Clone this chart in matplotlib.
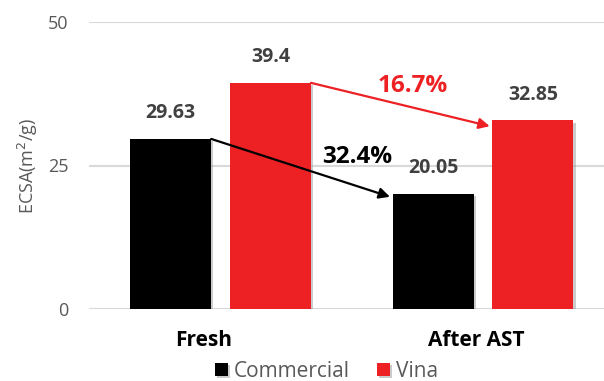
import matplotlib.pyplot as plt
import matplotlib.patheffects as pe
import numpy as np

# ECSA of commercial vs Vina catalyst, fresh and after accelerated stress test
categories = ['Fresh', 'After AST']
commercial = [29.63, 20.05]
vina = [39.4, 32.85]
series_names = ['Commercial', 'Vina']
commercial_loss = '32.4%'
vina_loss = '16.7%'

plt.rcParams['font.family'] = ['Open Sans', 'DejaVu Sans']

fig = plt.figure(figsize=(6.04, 3.81), dpi=100)
ax = fig.add_axes([89 / 604, 1 - 309 / 381, 1 - 89 / 604, (309 - 22) / 381])

x = np.arange(len(categories))
width = 0.309
offset = 0.19
shadow = [pe.SimplePatchShadow(offset=(1.5, -1.5), shadow_rgbFace='#999999', alpha=0.5), pe.Normal()]

b1 = ax.bar(x - offset, commercial, width, color='#000000', label=series_names[0], zorder=3,
            path_effects=shadow)
b2 = ax.bar(x + offset, vina, width, color='#ed2024', label=series_names[1], zorder=3,
            path_effects=shadow)

for bars, vals in ((b1, commercial), (b2, vina)):
    for rect, v in zip(bars, vals):
        ax.text(rect.get_x() + rect.get_width() / 2, v + 4.5, f'{v:g}', ha='center', va='center',
                fontsize=14, fontweight='bold', color='#404040')

# arrows showing the drop after AST
ax.annotate('', xy=(1 - offset - width / 2 - 0.01, commercial[1] - 0.5),
            xytext=(-offset + width / 2, commercial[0]),
            arrowprops=dict(arrowstyle='-|>', color='black', lw=1.6, mutation_scale=16,
                            shrinkA=0, shrinkB=0), zorder=4)
ax.annotate('', xy=(1 + offset - width / 2 - 0.01, vina[1] - 1),
            xytext=(offset + width / 2, vina[0]),
            arrowprops=dict(arrowstyle='-|>', color='#ed2024', lw=1.6, mutation_scale=16,
                            shrinkA=0, shrinkB=0), zorder=4)
ax.text(0.52, 26.4, commercial_loss, ha='center', va='center', fontsize=17.5, fontweight='bold',
        color='black', zorder=5)
ax.text(0.733, 38.8, vina_loss, ha='center', va='center', fontsize=17.5, fontweight='bold',
        color='#ed2024', zorder=5)

ax.set_xlim(-0.501, 1.461)
ax.set_ylim(0, 50)
ax.set_yticks([0, 25, 50])
ax.set_xticks(x + np.array([-0.063, -0.025]))
ax.set_xticklabels(categories, fontsize=15, fontweight='bold', color='black')
ax.tick_params(axis='x', length=0, pad=15)
ax.tick_params(axis='y', length=0, pad=15, labelsize=13, labelcolor='#595959')
ax.set_ylabel('ECSA(m$^2$/g)', fontsize=13, color='#595959')
ax.yaxis.set_label_coords(-0.095, 0.5)
ax.yaxis.grid(True, color='#d9d9d9', lw=1.5, zorder=0)
ax.set_axisbelow(True)
for s in ax.spines.values():
    s.set_visible(False)

fig.legend(handles=[b1, b2], labels=series_names, loc='center', bbox_to_anchor=(0.541, 0.026),
           ncol=2, frameon=False, fontsize=15, labelcolor='#595959', handlelength=0.6,
           handleheight=0.6, handletextpad=0.3, columnspacing=1.3, borderpad=0)

fig.savefig('out.png', dpi=100)
